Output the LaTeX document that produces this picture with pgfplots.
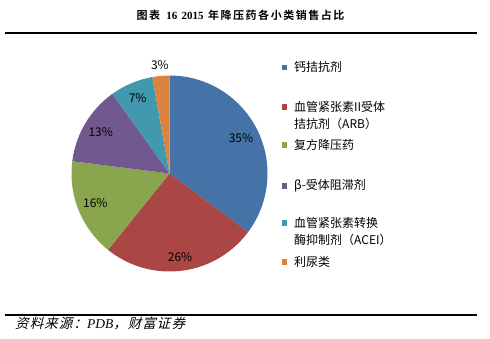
\documentclass[border=0pt]{standalone}
\usepackage{pgfplots}
\usepackage{pgfplotstable}
\pgfplotsset{compat=1.18}
\usepackage{fontspec}
\setmainfont{Liberation Serif}
\newfontfamily\cjk{Noto Sans CJK SC}
\newfontfamily\cjkb{Noto Sans CJK SC Bold}[LetterSpace=14]
\newfontfamily\cjkit{Noto Sans CJK SC}[FakeSlant=0.25, LetterSpace=8]

\definecolor{pie0}{HTML}{4572A7}
\definecolor{pie1}{HTML}{AA4643}
\definecolor{pie2}{HTML}{89A54E}
\definecolor{pie3}{HTML}{71588F}
\definecolor{pie4}{HTML}{4198AF}
\definecolor{pie5}{HTML}{DB843D}

% share of sales (%), label distance from centre (bp)
\pgfplotstableread{
value lr
35.2  80
25.6  84
16.2  80
13.1  80
7.1   82
2.8   109
}\piedata

\begin{document}
\begin{tikzpicture}
\xdef\curang{90}
\foreach \i in {0,...,5}{%
  \pgfplotstablegetelem{\i}{value}\of\piedata
  \let\v\pgfplotsretval
  \pgfplotstablegetelem{\i}{lr}\of\piedata
  \let\r\pgfplotsretval
  \pgfmathsetmacro\endang{\curang-3.6*\v}
  \pgfmathsetmacro\midang{(\curang+\endang)/2}
  \pgfmathtruncatemacro\lab{round(\v)}
  \expandafter\xdef\csname sA\i\endcsname{\curang}
  \expandafter\xdef\csname eA\i\endcsname{\endang}
  \expandafter\xdef\csname mA\i\endcsname{\midang}
  \expandafter\xdef\csname lab\i\endcsname{\lab}
  \expandafter\xdef\csname lr\i\endcsname{\r}
  \xdef\curang{\endang}
}
\begin{axis}[at={(0,0)}, anchor=south west, scale only axis,
  width=490bp, height=338bp, xmin=0, xmax=490, ymin=0, ymax=338,
  hide axis, clip=false]
\path (axis cs:0,0) rectangle (axis cs:490,338);
\pgfplotsinvokeforeach{0,...,5}{%
  \fill[pie#1] (axis cs:169.5,164.5) -- ([shift={(\csname sA#1\endcsname:98bp)}]axis cs:169.5,164.5)
     arc[start angle=\csname sA#1\endcsname, end angle=\csname eA#1\endcsname, radius=98bp] -- cycle;
}
\pgfplotsinvokeforeach{0,...,5}{%
  \node[font=\cjk\fontsize{12bp}{14bp}\selectfont, inner sep=0pt]
    at ([shift={(\csname mA#1\endcsname:\csname lr#1\endcsname bp)}]axis cs:169.5,164.5) {\csname lab#1\endcsname\%};
}
% title and rules
\node[anchor=west, inner sep=0pt] at (axis cs:136.5,323) {\fontsize{11bp}{13bp}\selectfont{\cjkb 图表}\hspace{4.5bp}\textbf{16}\hspace{4.3bp}\textbf{2015}\hspace{4.5bp}{\cjkb 年降压药各小类销售占比}};
\draw[line width=1.2bp] (axis cs:5,305) -- (axis cs:477,305);
\draw[line width=1.2bp] (axis cs:5,23) -- (axis cs:477,23);
\node[anchor=west, inner sep=0pt] at (axis cs:15,14.7) {\fontsize{13.5bp}{15bp}\selectfont{\cjkit 资料来源：}\textit{PDB}{\cjkit ，财富证券}};
% legend
\begin{scope}[every node/.style={anchor=west, inner sep=0pt, font=\cjk\fontsize{12bp}{14bp}\selectfont}]
\fill[pie0] (axis cs:281.8,268) rectangle (axis cs:287.2,273.4);
\node at (axis cs:294,270.7) {钙拮抗剂};
\fill[pie1] (axis cs:281.8,228.3) rectangle (axis cs:287.2,233.7);
\node at (axis cs:294,231) {血管紧张素II受体};
\node at (axis cs:294,214.5) {拮抗剂（ARB）};
\fill[pie2] (axis cs:281.8,190.3) rectangle (axis cs:287.2,195.7);
\node at (axis cs:294,193) {复方降压药};
\fill[pie3] (axis cs:281.8,149.3) rectangle (axis cs:287.2,154.7);
\node at (axis cs:294,152) {β-受体阻滞剂};
\fill[pie4] (axis cs:281.8,112.3) rectangle (axis cs:287.2,117.7);
\node at (axis cs:294,115) {血管紧张素转换};
\node at (axis cs:294,98) {酶抑制剂（ACEI）};
\fill[pie5] (axis cs:281.8,73.3) rectangle (axis cs:287.2,78.7);
\node at (axis cs:294,76) {利尿类};
\end{scope}
\end{axis}
\end{tikzpicture}
\end{document}
